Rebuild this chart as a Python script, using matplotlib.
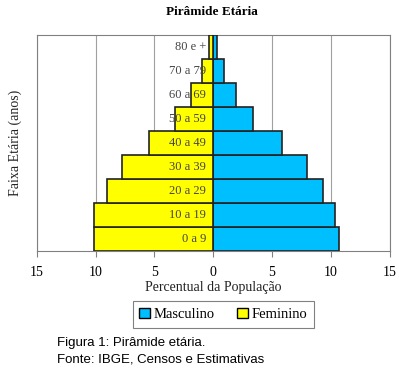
import matplotlib
matplotlib.use('Agg')
import matplotlib.pyplot as plt
from matplotlib.patches import Patch
import numpy as np

# Dados da pirâmide (percentual da população)
faixas = ["0 a 9", "10 a 19", "20 a 29", "30 a 39", "40 a 49",
          "50 a 59", "60 a 69", "70 a 79", "80 e +"]
masculino = [10.7, 10.35, 9.35, 8.0, 5.85, 3.35, 1.95, 0.9, 0.3]
feminino = [10.15, 10.15, 9.05, 7.8, 5.5, 3.25, 1.9, 0.95, 0.4]
xticks = [-15, -10, -5, 0, 5, 10, 15]
xticklabels = ["15", "10", "5", "0", "5", "10", "15"]

serif = "Liberation Serif"
cor_masc = "#00BFFF"
cor_fem = "#FFFF00"

fig = plt.figure(figsize=(3.99, 3.69), dpi=100)
ax = fig.add_axes([0.0927, 0.3198, 0.8835, 0.5862])

y = np.arange(len(faixas))
ax.barh(y, masculino, height=1.0, color=cor_masc, edgecolor="#222222", linewidth=1.2, zorder=3)
ax.barh(y, [-v for v in feminino], height=1.0, color=cor_fem, edgecolor="#222222", linewidth=1.2, zorder=3)

for i, f in enumerate(faixas):
    ax.text(-0.6, i, f, ha="right", va="center", fontsize=9, family=serif,
            color="#444444", zorder=4)

ax.set_xlim(-15, 15)
ax.set_ylim(-0.5, len(faixas) - 0.5)
ax.set_xticks(xticks)
ax.set_xticklabels(xticklabels, family=serif, fontsize=10)
ax.set_yticks([])
ax.tick_params(axis="x", direction="out", length=4, color="#808080", pad=7)
ax.grid(axis="x", color="#A0A0A0", linewidth=0.8, zorder=0)
for s in ax.spines.values():
    s.set_color("#808080")
    s.set_linewidth(0.8)

ax.set_xlabel("Percentual da População", family=serif, fontsize=10, color="#222222", labelpad=1)
ax.set_ylabel("Faixa Etária (anos)", family=serif, fontsize=10, color="#222222", labelpad=11)
fig.text(0.53, 0.985, "Pirâmide Etária", ha="center", va="top", family=serif,
         fontsize=9.5, fontweight="bold")

handles = [Patch(facecolor=cor_masc, edgecolor="black", label="Masculino"),
           Patch(facecolor=cor_fem, edgecolor="black", label="Feminino")]
leg = fig.legend(handles=handles, loc="center", bbox_to_anchor=(0.559, 0.148), ncol=2,
                 prop={"family": serif, "size": 10.5}, fancybox=False, framealpha=1,
                 edgecolor="#808080", handlelength=0.75, handleheight=0.75,
                 handletextpad=0.25, columnspacing=1.5, borderpad=0.45,
                 borderaxespad=0)
leg.get_frame().set_linewidth(0.8)

fig.text(0.143, 0.07, "Figura 1: Pirâmide etária.", family="Liberation Sans",
         fontsize=9.5, va="center")
fig.text(0.143, 0.027, "Fonte: IBGE, Censos e Estimativas", family="Liberation Sans",
         fontsize=9.5, va="center")

fig.savefig("out.png", dpi=100)
